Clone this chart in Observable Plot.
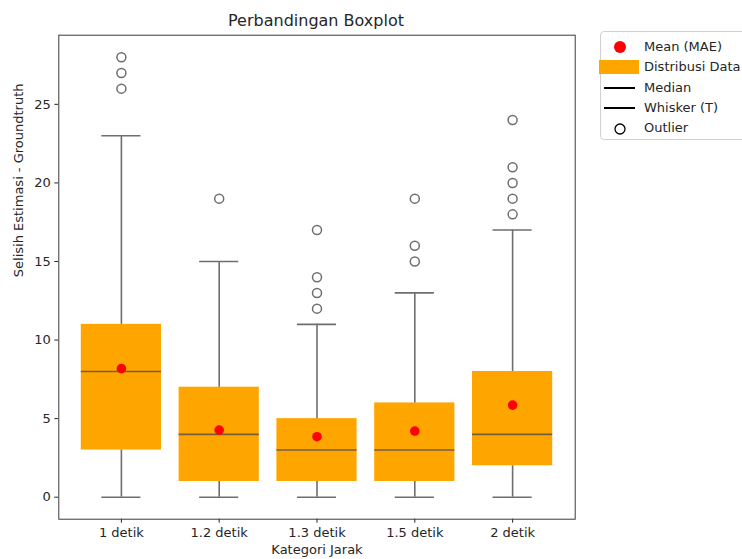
<!DOCTYPE html>
<html>
<head>
<meta charset="utf-8">
<script src="https://cdn.jsdelivr.net/npm/d3@7"></script>
<script src="https://cdn.jsdelivr.net/npm/@observablehq/plot@0.6"></script>
<style>
  html, body { margin: 0; padding: 0; background: #fff; }
  #wrap { position: relative; width: 742px; height: 559px; font-family: "DejaVu Sans", sans-serif; color: #262626; overflow: hidden; }
  #title { position: absolute; top: 11px; left: 196px; width: 240px; text-align: center; font-size: 16px; }
  #legend { position: absolute; left: 600px; top: 31px; width: 160px; height: 107px; border: 1px solid #d0d0d0; border-radius: 4px; background: #fff; font-size: 13px; }
  .item { position: absolute; left: 0; height: 20px; line-height: 20px; }
  .lab { position: absolute; left: 43px; white-space: nowrap; }
  .mk { position: absolute; }
</style>
</head>
<body>
<div id="wrap">
  <div id="chart"></div>
  <div id="title">Perbandingan Boxplot</div>
  <div id="legend"></div>
</div>
<script>
const categories = ["1 detik", "1.2 detik", "1.3 detik", "1.5 detik", "2 detik"];
const q1 = [3, 1, 1, 1, 2];
const medians = [8, 4, 3, 3, 4];
const q3 = [11, 7, 5, 6, 8];
const whiskerLow = [0, 0, 0, 0, 0];
const whiskerHigh = [23, 15, 11, 13, 17];
const means = [8.18, 4.27, 3.85, 4.21, 5.86];
const outliers = [[26, 27, 28], [19], [12, 13, 14, 17], [15, 16, 19], [18, 19, 20, 21, 24]];
const yTicks = [0, 5, 10, 15, 20, 25];
const legendLabels = ["Mean (MAE)", "Distribusi Data", "Median", "Whisker (T)", "Outlier"];

const boxes = categories.map((c, i) => ({
  i, c, q1: q1[i], med: medians[i], q3: q3[i], lo: whiskerLow[i], hi: whiskerHigh[i], mean: means[i]
}));
const outPts = outliers.flatMap((arr, i) => arr.map(v => ({i, v})));

const lineCol = "#6e6e6e";
const hb = 0.41, hc = 0.2;

const chart = Plot.plot({
  width: 742,
  height: 559,
  marginLeft: 58.3,
  marginRight: 167.3,
  marginTop: 34.7,
  marginBottom: 40.3,
  style: { fontFamily: "DejaVu Sans, sans-serif", fontSize: "13px", color: "#262626", background: "#fff" },
  x: { type: "linear", domain: [-0.64, 4.64], ticks: [0, 1, 2, 3, 4], tickFormat: d => categories[d], tickSize: 4, tickPadding: 5, label: null },
  y: { domain: [-1.4, 29.4], ticks: yTicks, tickSize: 4, tickPadding: 4, label: null },
  marks: [
    Plot.rect(boxes, { x1: d => d.i - hb, x2: d => d.i + hb, y1: "q1", y2: "q3", fill: "#FFA500" }),
    Plot.ruleX(boxes, { x: "i", y1: "lo", y2: "q1", stroke: lineCol, strokeWidth: 1.6 }),
    Plot.ruleX(boxes, { x: "i", y1: "q3", y2: "hi", stroke: lineCol, strokeWidth: 1.6 }),
    Plot.ruleY(boxes, { y: "lo", x1: d => d.i - hc, x2: d => d.i + hc, stroke: lineCol, strokeWidth: 1.6 }),
    Plot.ruleY(boxes, { y: "hi", x1: d => d.i - hc, x2: d => d.i + hc, stroke: lineCol, strokeWidth: 1.6 }),
    Plot.ruleY(boxes, { y: "med", x1: d => d.i - hb, x2: d => d.i + hb, stroke: "#735f3c", strokeWidth: 1.6 }),
    Plot.dot(outPts, { x: "i", y: "v", r: 4.5, stroke: lineCol, strokeWidth: 1.5, fill: "none" }),
    Plot.dot(boxes, { x: "i", y: "mean", r: 4.8, fill: "#ff0000", stroke: "none" }),
    Plot.frame({ stroke: "#3a3a3a", strokeWidth: 1 }),
    Plot.text(["Kategori Jarak"], { frameAnchor: "bottom", dy: 35, fontSize: 13 }),
    Plot.text(["Selisih Estimasi - Groundtruth"], { frameAnchor: "left", dx: -40, rotate: -90, fontSize: 13 })
  ]
});
document.getElementById("chart").appendChild(chart);

// legend
const leg = document.getElementById("legend");
const markers = [
  '<svg class="mk" style="left:12px;top:3px" width="14" height="14"><circle cx="7" cy="7" r="6" fill="#ff0000"/></svg>',
  '<div class="mk" style="left:-2px;top:3px;width:40px;height:14px;background:#FFA500"></div>',
  '<div class="mk" style="left:3px;top:9px;width:31px;height:2px;background:#000"></div>',
  '<div class="mk" style="left:3px;top:9px;width:31px;height:2px;background:#000"></div>',
  '<svg class="mk" style="left:12px;top:4px" width="14" height="14"><circle cx="7" cy="7" r="5" fill="none" stroke="#000" stroke-width="1.3"/></svg>'
];
legendLabels.forEach((t, k) => {
  const d = document.createElement("div");
  d.className = "item";
  d.style.top = (5 + k * 20.3) + "px";
  d.style.width = "160px";
  d.innerHTML = markers[k] + '<span class="lab">' + t + '</span>';
  leg.appendChild(d);
});
</script>
</body>
</html>
